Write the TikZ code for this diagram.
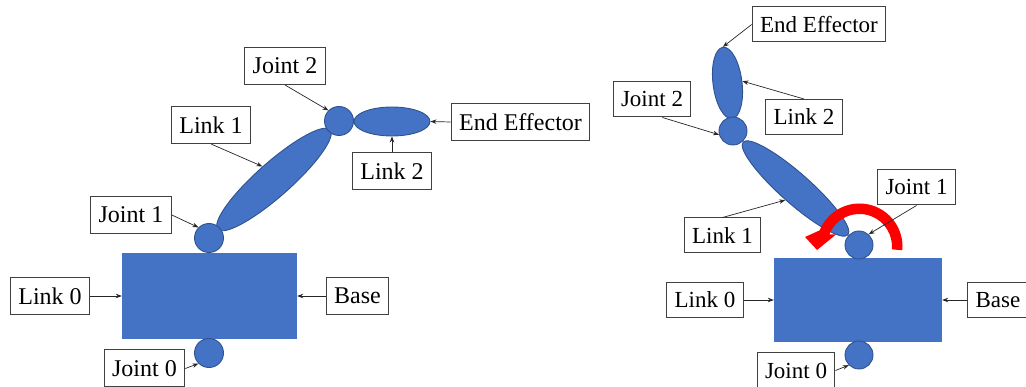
\documentclass[tikz,border=0pt]{standalone}
\usepackage{fontspec}
\setmainfont{Liberation Serif}
\usetikzlibrary{arrows.meta,calc,shapes.geometric}
\definecolor{linkblue}{HTML}{4472C4}
\definecolor{edgeblue}{HTML}{2F528F}
\definecolor{turnred}{HTML}{FF0000}
\begin{document}
\begin{tikzpicture}[x=1pt,y=-1pt,
  part/.style={fill=linkblue,draw=edgeblue,line width=0.9pt},
  jointc/.style={part,circle,minimum size=29pt,inner sep=0pt},
  linkel/.style={part,ellipse,inner sep=0pt},
  basebox/.style={fill=linkblue,inner sep=0pt},
  tagbox/.style={draw=black!75,line width=1pt,fill=white,inner xsep=8pt,inner ysep=0pt,
    minimum height=37pt,font=\fontsize{24}{28}\selectfont},
  tagboxs/.style={tagbox,minimum height=35pt,font=\fontsize{23}{27}\selectfont},
  pointer/.style={draw=black!85,line width=0.7pt,-{Stealth[length=6pt,width=4.5pt]}},
]
\useasboundingbox (0,0) rectangle (1026,387);

% ---------- left arm: links stretched out ----------
\node[basebox,minimum width=175pt,minimum height=86pt] (baseA) at (209.5,296) {};
\node[linkel,minimum width=150pt,minimum height=34pt,rotate=41.5] (l1A) at (274,179.5) {};
\node[linkel,minimum width=76pt,minimum height=29pt] (l2A) at (392,121.5) {};
\node[jointc] (j0A) at (209,353) {};
\node[jointc] (j1A) at (209,238) {};
\node[jointc] (j2A) at (339,121) {};

\node[tagbox] (tj2A) at (285,66) {Joint 2};
\node[tagbox] (tl1A) at (211,125) {Link 1};
\node[tagbox] (tj1A) at (131,215) {Joint 1};
\node[tagbox] (tl0A) at (50,296) {Link 0};
\node[tagbox] (tbA) at (357.5,296) {Base};
\node[tagbox] (tj0A) at (144.5,368.5) {Joint 0};
\node[tagbox] (tl2A) at (392,171) {Link 2};
\node[tagbox] (teA) at (520.5,122) {End Effector};

\draw[pointer] (tj2A.south) -- (j2A.135);
\draw[pointer] (tl1A.south) -- (l1A.north);
\draw[pointer] (tj1A.east) -- (j1A.135);
\draw[pointer] (tl0A.east) -- (baseA.west);
\draw[pointer] (tbA.west) -- (baseA.east);
\draw[pointer] (tj0A.east) -- (j0A.225);
\draw[pointer] (tl2A.north) -- (l2A.south);
\draw[pointer] (teA.west) -- (l2A.east);

% ---------- right arm: folded back, turning about joint 1 ----------
\node[basebox,minimum width=168pt,minimum height=84pt] (baseB) at (858,300) {};
\node[linkel,minimum width=140pt,minimum height=30pt,rotate=-41.5] (l1B) at (795.5,188.5) {};
\node[linkel,minimum width=72pt,minimum height=29pt,rotate=-82.8] (l2B) at (727.5,83) {};

% rotation arrow around joint 1
\coordinate (ac) at (859.5,246.5);
\fill[turnred] ($(ac)+(5:43)$) arc[start angle=5,end angle=-158,radius=43]
  -- ($(ac)+(-170.1:55.3)$) -- ($(ac)+(-184.7:42.6)$) -- ($(ac)+(-152.9:26.4)$)
  -- ($(ac)+(-158:32.5)$) arc[start angle=-158,end angle=5,radius=32.5] -- cycle;

\node[jointc,minimum size=28pt] (j0B) at (859,355) {};
\node[jointc,minimum size=28pt] (j1B) at (859,245) {};
\node[jointc,minimum size=28pt] (j2B) at (733,131) {};

\node[tagboxs] (teB) at (819,24.5) {End Effector};
\node[tagboxs] (tj2B) at (652,99.5) {Joint 2};
\node[tagboxs] (tl2B) at (804,117) {Link 2};
\node[tagboxs] (tj1B) at (916.5,187.5) {Joint 1};
\node[tagboxs] (tl1B) at (722.5,235.5) {Link 1};
\node[tagboxs] (tl0B) at (705,300) {Link 0};
\node[tagboxs] (tbB) at (998,300) {Base};
\node[tagboxs] (tj0B) at (796,370.5) {Joint 0};

\draw[pointer] (teB.west) -- (l2B.west);
\draw[pointer] (tl2B.north) -- (l2B.north);
\draw[pointer] (tj2B.-60) -- (j2B.195);
\draw[pointer] (tl1B.north) -- (l1B.south);
\draw[pointer] (tj1B.south) -- (j1B.48);
\draw[pointer] (tl0B.east) -- (baseB.west);
\draw[pointer] (tbB.west) -- (baseB.east);
\draw[pointer] (tj0B.east) -- (j0B.225);
\end{tikzpicture}
\end{document}
